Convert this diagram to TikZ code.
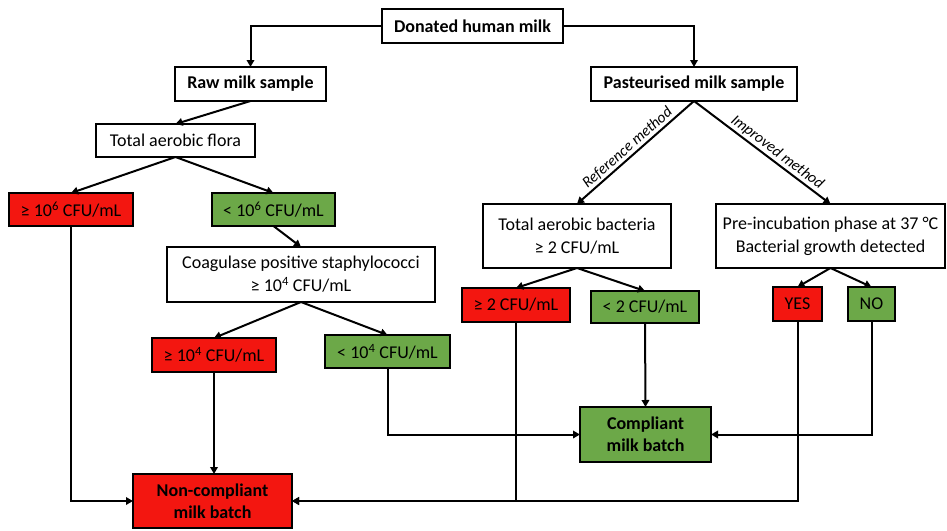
\documentclass[tikz,border=0pt]{standalone}
\usepackage{fontspec}
\setmainfont{Carlito}
\usetikzlibrary{arrows.meta}

\definecolor{nored}{RGB}{243,22,16}
\definecolor{okgreen}{RGB}{108,168,72}

\tikzset{
  box/.style={draw, line width=2pt, inner sep=0pt, outer sep=0pt, align=center,
    font=\fontsize{18}{23}\selectfont},
  bold/.style={font=\fontsize{18}{22}\selectfont\bfseries},
  bad/.style={box, fill=nored},
  good/.style={box, fill=okgreen},
  arr/.style={line width=2pt, -{Triangle[length=7pt,width=7.5pt]}},
  lbl/.style={font=\fontsize{15.5}{17}\selectfont\itshape, inner sep=1.5pt}
}

\begin{document}
\begin{tikzpicture}[x=1pt,y=-1pt]
    \useasboundingbox (0,0) rectangle (947,530);

    % top of the tree
    \node[box, bold, minimum width=181, minimum height=34] (donated) at (472.5,26) {Donated human milk};
    \node[box, bold, minimum width=151, minimum height=34] (raw) at (250.5,84) {Raw milk sample};
    \node[box, bold, minimum width=206, minimum height=34] (past) at (694,84) {Pasteurised milk sample};

    % raw milk branch
    \node[box, minimum width=159, minimum height=33] (flora) at (175.5,140.5) {Total aerobic flora};
    \node[bad, minimum width=124, minimum height=33] (hisix) at (71,209.5) {≥ 10\textsuperscript{6} CFU/mL};
    \node[good, minimum width=123, minimum height=33] (losix) at (273.5,209.5) {< 10\textsuperscript{6} CFU/mL};
    \node[box, minimum width=268, minimum height=55] (coag) at (301,274.5) {Coagulase positive staphylococci\\≥ 10\textsuperscript{4} CFU/mL};
    \node[bad, minimum width=124, minimum height=34] (hifour) at (214,355) {≥ 10\textsuperscript{4} CFU/mL};
    \node[good, minimum width=125, minimum height=33] (lofour) at (387.5,351.5) {< 10\textsuperscript{4} CFU/mL};

    % pasteurised branch
    \node[box, minimum width=188, minimum height=64] (tab) at (577,236) {Total aerobic bacteria\\≥ 2 CFU/mL};
    \node[box, minimum width=229, minimum height=64] (pre) at (830.5,236) {Pre-incubation phase at 37 °C\\Bacterial growth detected};
    \node[bad, minimum width=108, minimum height=34] (hitwo) at (516,305) {≥ 2 CFU/mL};
    \node[good, minimum width=108, minimum height=32] (lotwo) at (645,307) {< 2 CFU/mL};
    \node[bad, minimum width=49, minimum height=34] (yes) at (797.5,304) {YES};
    \node[good, minimum width=47, minimum height=34] (no) at (871.5,304) {NO};

    % outcomes
    \node[bad, bold, minimum width=159, minimum height=54] (noncomp) at (212.5,501) {Non-compliant\\milk batch};
    \node[good, bold, minimum width=131, minimum height=55] (comp) at (645.5,434.5) {Compliant\\milk batch};

    \draw[arr] (donated.west) -| (raw.north);
    \draw[arr] (donated.east) -| (past.north);
    \draw[arr] (raw.south) -- (flora.north);
    \draw[arr] (flora.south) -- (hisix.north);
    \draw[arr] (flora.south) -- (losix.north);
    \draw[arr] (losix.south) -- (coag.north);
    \draw[arr] (coag.south) -- (hifour.north);
    \draw[arr] (coag.south) -- (lofour.north);
    \draw[arr] (past.south) -- node[lbl, pos=0.52, sloped, above] {Reference method} (tab.north);
    \draw[arr] (past.south) -- node[lbl, pos=0.57, sloped, above] {Improved method} (pre.north);
    \draw[arr] (tab.south) -- (hitwo.north);
    \draw[arr] (tab.south) -- (lotwo.north);
    \draw[arr] (pre.south) -- (yes.north);
    \draw[arr] (pre.south) -- (no.north);

    \draw[arr] (hisix.south) |- (noncomp.west);
    \draw[arr] (hifour.south) -- (hifour.south |- noncomp.north);
    \draw[arr] (hitwo.south) |- (noncomp.east);
    \draw[arr] (yes.south) |- (noncomp.east);
    \draw[arr] (lofour.south) |- (comp.west);
    \draw[arr] (lotwo.south) -- (comp.north);
    \draw[arr] (no.south) |- (comp.east);
\end{tikzpicture}
\end{document}
